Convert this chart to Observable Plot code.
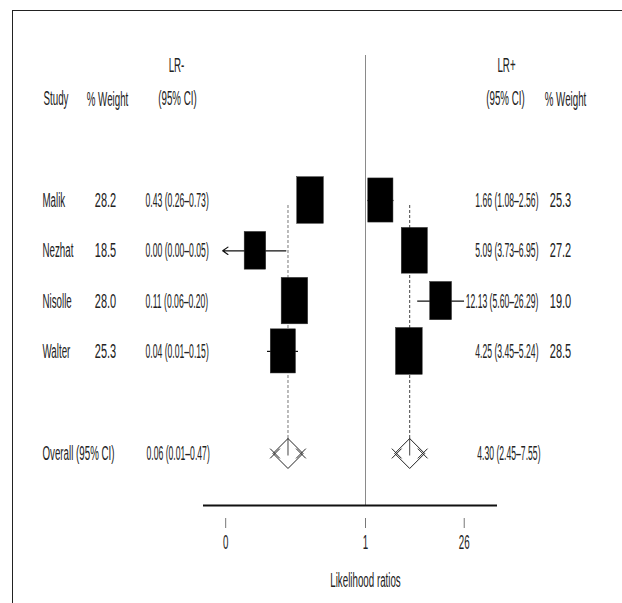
<!DOCTYPE html>
<html>
<head>
<meta charset="utf-8">
<script src="https://cdn.jsdelivr.net/npm/d3@7"></script>
<script src="https://cdn.jsdelivr.net/npm/@observablehq/plot@0.6"></script>
<style>
  html, body { margin: 0; padding: 0; background: #fff; }
  #wrap { position: relative; width: 622px; height: 603px; overflow: hidden; }
  #frame { position: absolute; left: 12px; top: 10px; width: 620px; height: 600px;
           border-left: 1px solid #222; border-top: 1px solid #222; pointer-events: none; }
  svg { display: block; }
</style>
</head>
<body>
<div id="wrap"><div id="frame"></div></div>
<script>
// ---------------- data ----------------
const studies   = ["Malik", "Nezhat", "Nisolle", "Walter"];
const negWeight = [28.2, 18.5, 28.0, 25.3];
const negEst    = [0.43, 0.0035, 0.11, 0.04];
const negLo     = [0.26, 0.0002, 0.06, 0.01];
const negHi     = [0.73, 0.05, 0.20, 0.15];
const posEst    = [1.66, 5.09, 12.13, 4.25];
const posLo     = [1.08, 3.73, 5.60, 3.45];
const posHi     = [2.56, 6.95, 26.29, 5.24];
const posWeight = [25.3, 27.2, 19.0, 28.5];
const overallLabel = "Overall (95% CI)";
const overallNeg = {est: 0.06, lo: 0.01, hi: 0.47};
const overallPos = {est: 4.30, lo: 2.45, hi: 7.55};
const tickSide   = ["neg", "pos", "pos"];
const tickValues = [0.00026, 1, 26];
const tickLabels = ["0", "1", "26"];
const axisTitle  = "Likelihood ratios";

// ---------------- layout ----------------
const W = 622, H = 603;
const PX_PER_LN = 30.3, ONE_PX = 365;           // LR+ panel: natural-log scale
const NEG_ONE_PX = 319.7, NEG_PX_PER_LN = 11.45; // LR- panel: natural-log scale
const ROW_PX = 50.3, ROW0_PX = 200;
const px2x = px => (px - ONE_PX) / PX_PER_LN;
const px2y = px => (px - ROW0_PX) / ROW_PX;
const posX = v => Math.log(v);
const negX = v => (NEG_ONE_PX - ONE_PX + NEG_PX_PER_LN * Math.log(v)) / PX_PER_LN;
const halfW = w => 13.3 / PX_PER_LN * Math.sqrt(w / 28.2);
const halfH = w => 23.3 / ROW_PX * Math.sqrt(w / 28.2);
const OVERALL_ROW = 5.03;
const negMin = tickValues[0];

const rows = studies.map((s, i) => ({
  study: s, row: i,
  nw: negWeight[i], ne: negEst[i], nl: negLo[i], nh: negHi[i],
  pw: posWeight[i], pe: posEst[i], pl: posLo[i], ph: posHi[i]
}));
const overall = [{row: OVERALL_ROW, ne: overallNeg.est, nl: overallNeg.lo, nh: overallNeg.hi,
                  pe: overallPos.est, pl: overallPos.lo, ph: overallPos.hi}];
const ticks = tickValues.map((v, i) => ({v, side: tickSide[i], label: tickLabels[i]}));
const tickX = d => d.side === "neg" ? negX(d.v) : posX(d.v);

const f2 = v => v.toFixed(2);
const ciText = (e, l, h) => `${f2(e)} (${f2(l)}\u2013${f2(h)})`;
const f1 = v => v.toFixed(1);

const TXT = {fontSize: 12.5, fill: "#222"};
const c = v => () => v;

const chart = Plot.plot({
  width: W, height: H,
  marginTop: 0, marginRight: 0, marginBottom: 0, marginLeft: 0,
  style: {fontFamily: "'Liberation Sans', Arial, Helvetica, sans-serif", background: "transparent"},
  x: {type: "linear", domain: [px2x(0), px2x(W)], range: [0, W], axis: null},
  y: {type: "linear", domain: [px2y(0), px2y(H)], range: [0, H], axis: null},
  marks: [
    // line of no effect (LR = 1)
    Plot.ruleX([1], {x: posX, y1: c(px2y(55)), y2: c(px2y(505)), stroke: "#8a8a8a", strokeWidth: 1}),
    // pooled estimate dashed lines
    Plot.ruleX(overall, {x: d => negX(d.ne), y1: c(px2y(205)), y2: c(OVERALL_ROW - 0.27), stroke: "#777", strokeDasharray: "3,2", strokeWidth: 1}),
    Plot.ruleX(overall, {x: d => posX(d.pe), y1: c(px2y(205)), y2: c(OVERALL_ROW - 0.27), stroke: "#444", strokeDasharray: "3,2", strokeWidth: 1}),
    Plot.ruleX(overall, {x: d => negX(d.ne), y1: c(OVERALL_ROW - 0.3), y2: c(OVERALL_ROW + 0.05), stroke: "#444", strokeWidth: 1}),
    Plot.ruleX(overall, {x: d => posX(d.pe), y1: c(OVERALL_ROW - 0.3), y2: c(OVERALL_ROW + 0.05), stroke: "#444", strokeWidth: 1}),
    // confidence intervals
    Plot.ruleY(rows.filter(d => d.nl >= negMin), {y: "row", x1: d => negX(d.nl), x2: d => negX(d.nh), stroke: "#111", strokeWidth: 1.2}),
    Plot.arrow(rows.filter(d => d.nl < negMin), {x1: d => negX(d.nh), y1: "row", x2: d => negX(d.nl), y2: "row",
      stroke: "#111", strokeWidth: 1.2, headLength: 8, headAngle: 70}),
    Plot.ruleY(rows, {y: "row", x1: d => posX(d.pl), x2: d => posX(d.ph), stroke: "#111", strokeWidth: 1.2}),
    // weighted boxes
    Plot.rect(rows, {x1: d => negX(d.ne) - halfW(d.nw), x2: d => negX(d.ne) + halfW(d.nw),
                     y1: d => d.row - halfH(d.nw), y2: d => d.row + halfH(d.nw), fill: "#000", stroke: "#333", strokeWidth: 0.5}),
    Plot.rect(rows, {x1: d => posX(d.pe) - halfW(d.pw), x2: d => posX(d.pe) + halfW(d.pw),
                     y1: d => d.row - halfH(d.pw), y2: d => d.row + halfH(d.pw), fill: "#000", stroke: "#333", strokeWidth: 0.5}),
    // pooled diamonds
    Plot.dot(overall, {x: d => negX(d.ne), y: "row", symbol: "diamond2", r: 13.5, stroke: "#222", strokeWidth: 1, fill: "none"}),
    Plot.dot(overall, {x: d => posX(d.pe), y: "row", symbol: "diamond2", r: 13.5, stroke: "#222", strokeWidth: 1, fill: "none"}),
    Plot.dot(overall, {x: d => negX(d.ne), y: "row", symbol: "times", r: 4.5, dx: -13, stroke: "#222", strokeWidth: 1}),
    Plot.dot(overall, {x: d => negX(d.ne), y: "row", symbol: "times", r: 4.5, dx: 13, stroke: "#222", strokeWidth: 1}),
    Plot.dot(overall, {x: d => posX(d.pe), y: "row", symbol: "times", r: 4.5, dx: -13, stroke: "#222", strokeWidth: 1}),
    Plot.dot(overall, {x: d => posX(d.pe), y: "row", symbol: "times", r: 4.5, dx: 13, stroke: "#222", strokeWidth: 1}),
    // bottom axis
    Plot.ruleY([0], {y: c(px2y(505)), x1: c(px2x(203)), x2: c(px2x(497)), stroke: "#111", strokeWidth: 2}),
    Plot.ruleX(ticks, {x: tickX, y1: c(px2y(518)), y2: c(px2y(528)), stroke: "#777", strokeWidth: 1}),
    Plot.text(ticks, {x: tickX, y: c(px2y(542)), text: "label", ...TXT}),
    Plot.text([axisTitle], {x: c(posX(1)), y: c(px2y(580)), text: d => d, ...TXT}),
    // headers
    Plot.text(["LR-"], {x: c(px2x(176)), y: c(px2y(65)), text: d => d, ...TXT}),
    Plot.text(["LR+"], {x: c(px2x(506)), y: c(px2y(65)), text: d => d, ...TXT}),
    Plot.text(["Study"], {x: c(px2x(43)), y: c(px2y(98)), text: d => d, textAnchor: "start", ...TXT}),
    Plot.text(["% Weight"], {x: c(px2x(107)), y: c(px2y(99)), text: d => d, ...TXT}),
    Plot.text(["(95% CI)"], {x: c(px2x(177)), y: c(px2y(98)), text: d => d, ...TXT}),
    Plot.text(["(95% CI)"], {x: c(px2x(505)), y: c(px2y(98)), text: d => d, ...TXT}),
    Plot.text(["% Weight"], {x: c(px2x(565)), y: c(px2y(99)), text: d => d, ...TXT}),
    // table rows
    Plot.text(rows, {x: c(px2x(42)), y: "row", text: "study", textAnchor: "start", ...TXT}),
    Plot.text(rows, {x: c(px2x(105)), y: "row", text: d => f1(d.nw), ...TXT}),
    Plot.text(rows, {x: c(px2x(145)), y: "row", text: d => ciText(d.ne, d.nl, d.nh), textAnchor: "start", ...TXT}),
    Plot.text(rows, {x: c(px2x(538)), y: "row", text: d => ciText(d.pe, d.pl, d.ph), textAnchor: "end", ...TXT}),
    Plot.text(rows, {x: c(px2x(560)), y: "row", text: d => f1(d.pw), ...TXT}),
    Plot.text(overall, {x: c(px2x(42)), y: "row", text: c(overallLabel), textAnchor: "start", ...TXT}),
    Plot.text(overall, {x: c(px2x(146)), y: "row", text: d => ciText(d.ne, d.nl, d.nh), textAnchor: "start", ...TXT}),
    Plot.text(overall, {x: c(px2x(540)), y: "row", text: d => ciText(d.pe, d.pl, d.ph), textAnchor: "end", ...TXT})
  ]
});

// the reference's text is condensed and tall: squeeze glyphs horizontally, stretch vertically about their anchor
const SY = 1.65;
const sxFor = s => /\u2013/.test(s) ? 0.69 : /^\d+\.\d$/.test(s) ? 0.88 : 0.78;
chart.querySelectorAll("text").forEach(t => {
  const tr = t.getAttribute("transform") || "";
  t.setAttribute("transform", `${tr} scale(${sxFor(t.textContent)},${SY})`);
});

document.getElementById("wrap").insertBefore(chart, document.getElementById("frame"));
</script>
</body>
</html>
